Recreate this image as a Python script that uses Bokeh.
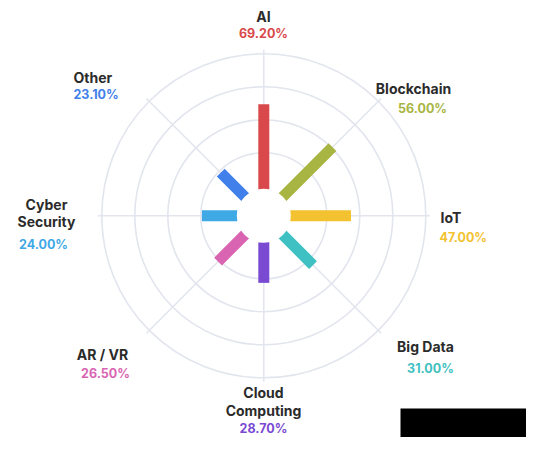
import numpy as np
from bokeh.plotting import figure
from bokeh.models import Range1d, ColumnDataSource
from bokeh.embed import file_html
from bokeh.resources import INLINE
from bokeh.core.properties import value

# ---- data ----
categories = ["AI", "Blockchain", "IoT", "Big Data", "Cloud\nComputing", "AR / VR", "Cyber\nSecurity", "Other"]
values = [69.2, 56.0, 47.0, 31.0, 28.7, 26.5, 24.0, 23.1]
value_labels = ["69.20%", "56.00%", "47.00%", "31.00%", "28.70%", "26.50%", "24.00%", "23.10%"]
colors = ["#d9484b", "#a9b542", "#f2c230", "#3fc0c2", "#7a4ad3", "#d965b2", "#3fa9e6", "#4180ea"]
rings = [25, 55, 85, 115]

# ---- radial scale (pixels) ----
CX, CY = 263.3, 215.3
R0, K = 35.5, 1.1          # r_px = R0 + K * value
HOLE = 27
SPOKE = 166

def rpx(v):
    return R0 + K * np.asarray(v, dtype=float)

n = len(categories)
theta = np.arange(n) * 2 * np.pi / n  # clockwise from top

p = figure(width=526, height=437, output_backend="svg", toolbar_location=None,
           x_range=Range1d(0, 526), y_range=Range1d(437, 0),
           x_axis_location=None, y_axis_location=None, min_border=0,
           background_fill_color="white", border_fill_color="white")
p.outline_line_color = None
p.grid.visible = False

grid_col = "#e2e5ee"
# spokes
p.segment(x0=[CX] * n, y0=[CY] * n,
          x1=CX + SPOKE * np.sin(theta), y1=CY - SPOKE * np.cos(theta),
          line_color=grid_col, line_width=1.5)
# rings
p.circle(x=[CX] * len(rings), y=[CY] * len(rings), radius=rpx(rings),
         fill_color=None, line_color=grid_col, line_width=1.6)

# bars
r_end = rpx(values)
src = ColumnDataSource(dict(
    x0=[CX] * n, y0=[CY] * n,
    x1=CX + r_end * np.sin(theta), y1=CY - r_end * np.cos(theta),
    color=colors))
p.segment(x0="x0", y0="y0", x1="x1", y1="y1", source=src,
          line_color="color", line_width=11, line_cap="butt")

# center hole
p.circle(x=[CX], y=[CY], radius=HOLE, fill_color="white", line_color=None)

# labels (layout: title pos, value pos, align)
layout = [
    ((263, 16), (263, 33), "center"),
    ((413, 88), (422, 108), "center"),
    ((440, 217), (439, 237), "left"),
    ((425, 346), (430, 368), "center"),
    ((263, 401), (263, 428), "center"),
    ((102, 354), (105, 373), "center"),
    ((46, 212.5), (43, 244), "center"),
    ((73, 77), (73, 94), "left"),
]
font = value("Inter")
for i in range(n):
    (tx, ty), (vx, vy), al = layout[i]
    p.text(x=[tx], y=[ty], text=[categories[i]], text_font=font, text_font_style="bold",
           text_font_size="14px", text_color="#2b2b2b", text_align=al,
           text_baseline="middle", text_line_height=1.05)
    p.text(x=[vx], y=[vy], text=[value_labels[i]], text_font=font, text_font_style="bold",
           text_font_size="12.5px", text_color=colors[i], text_align=al,
           text_baseline="middle")

# black box in the lower right of the reference
p.quad(left=[400], right=[532], top=[408], bottom=[437], fill_color="black", line_color=None)

open("out.html", "w").write(file_html(p, INLINE))
